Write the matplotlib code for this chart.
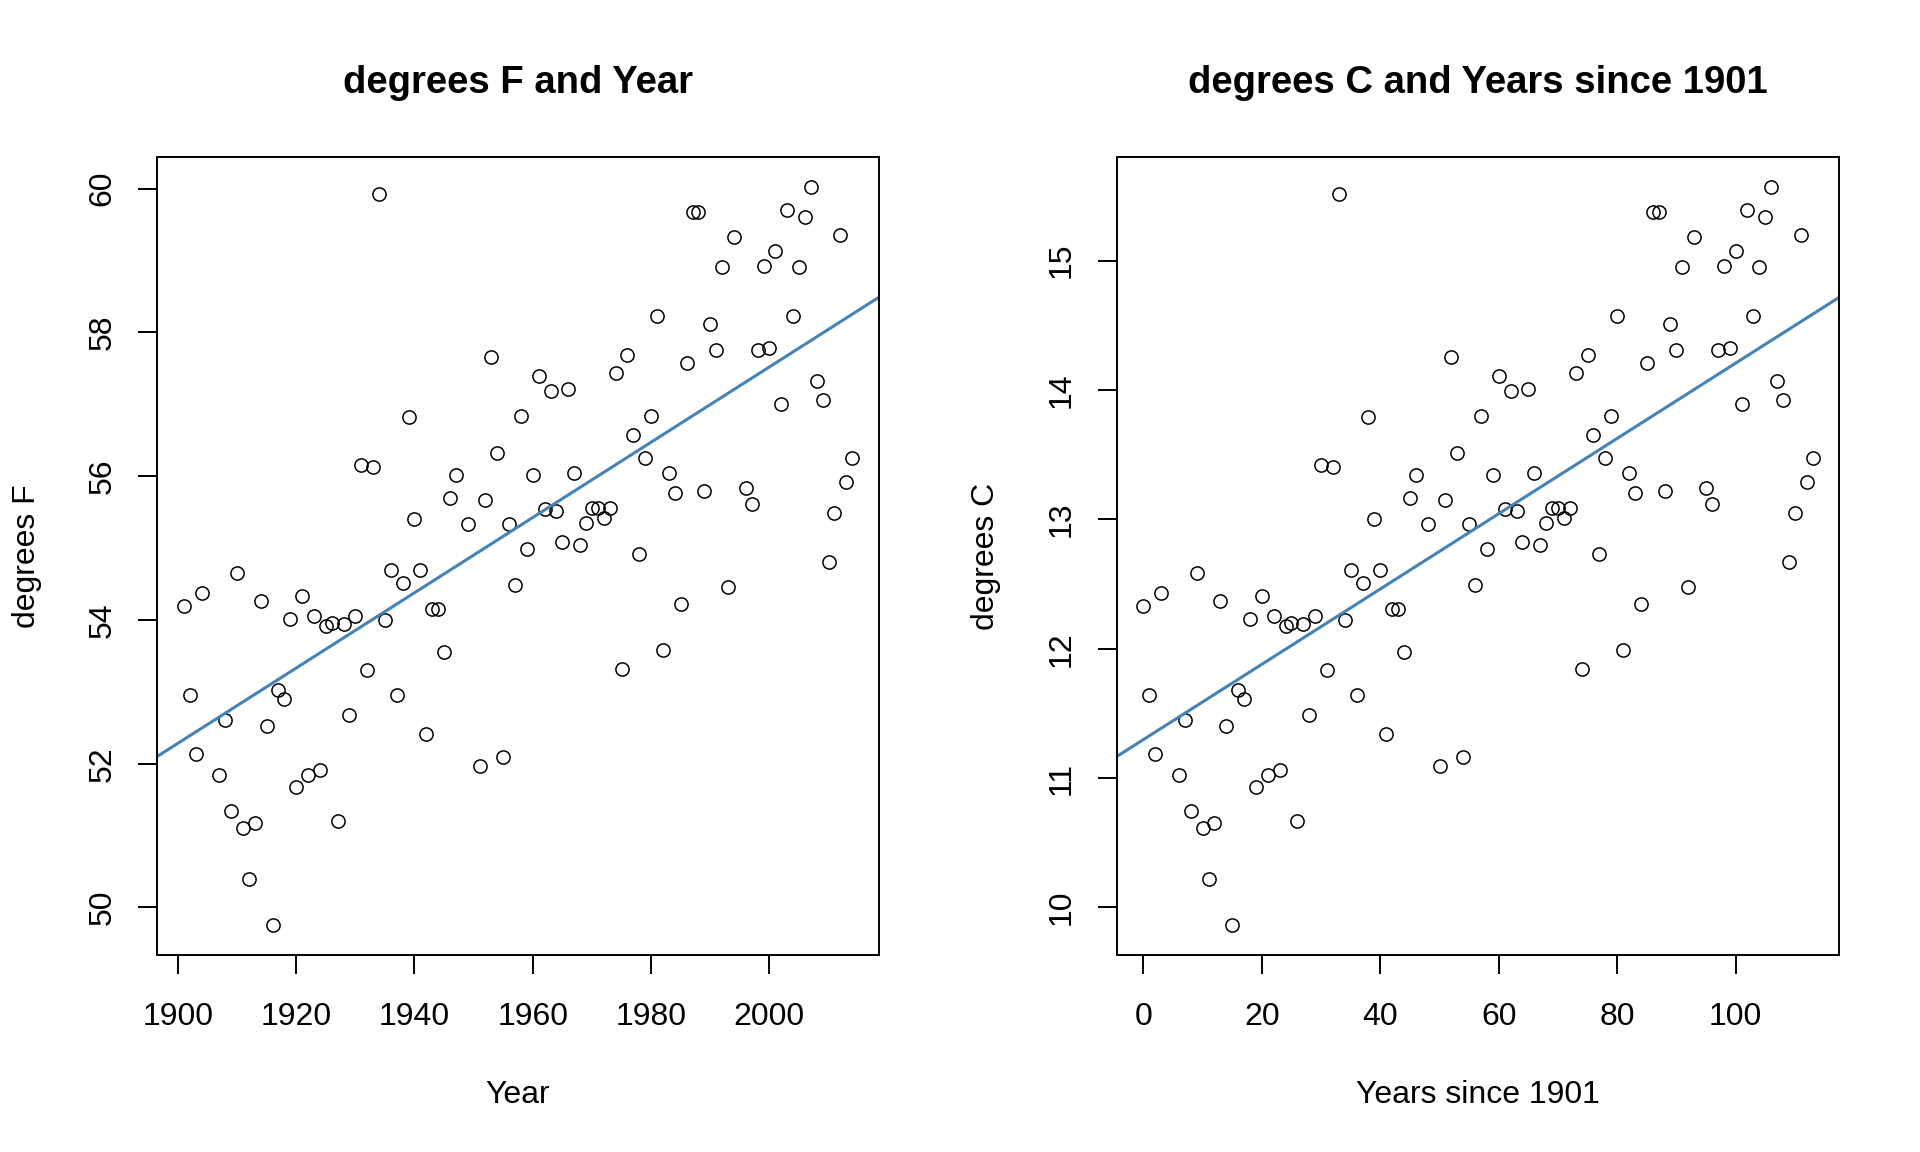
import numpy as np
import matplotlib
matplotlib.use('Agg')
import matplotlib.pyplot as plt

plt.rcParams['font.family'] = ['Liberation Sans', 'DejaVu Sans']

# yearly average temperature, degrees F
years = [1901, 1902, 1903, 1904, 1907, 1908, 1909, 1910, 1911, 1912,
         1913, 1914, 1915, 1916, 1917, 1918, 1919, 1920, 1921, 1922,
         1923, 1924, 1925, 1926, 1927, 1928, 1929, 1930, 1931, 1932,
         1933, 1934, 1935, 1936, 1937, 1938, 1939, 1940, 1941, 1942,
         1943, 1944, 1945, 1946, 1947, 1949, 1951, 1952, 1953, 1954,
         1955, 1956, 1957, 1958, 1959, 1960, 1961, 1962, 1963, 1964,
         1965, 1966, 1967, 1968, 1969, 1970, 1971, 1972, 1973, 1974,
         1975, 1976, 1977, 1978, 1979, 1980, 1981, 1982, 1983, 1984,
         1985, 1986, 1987, 1988, 1989, 1990, 1991, 1992, 1993, 1994,
         1996, 1997, 1998, 1999, 2000, 2001, 2002, 2003, 2004, 2005,
         2006, 2007, 2008, 2009, 2010, 2011, 2012, 2013, 2014]

temp_f = [54.19, 52.95, 52.14, 54.38, 51.84, 52.61, 51.34, 54.66, 51.10, 50.40,
          51.17, 54.26, 52.53, 49.75, 53.02, 52.90, 54.02, 51.67, 54.34, 51.85,
          54.06, 51.91, 53.92, 53.96, 51.20, 53.95, 52.68, 54.05, 56.16, 53.30,
          56.13, 59.93, 54.00, 54.69, 52.95, 54.51, 56.82, 55.41, 54.69, 52.41,
          54.15, 54.15, 53.55, 55.70, 56.02, 55.33, 51.97, 55.67, 57.66, 56.33,
          52.10, 55.33, 54.48, 56.84, 54.99, 56.02, 57.40, 55.55, 57.18, 55.52,
          55.08, 57.22, 56.05, 55.05, 55.35, 55.56, 55.56, 55.42, 55.56, 57.44,
          53.32, 57.69, 56.58, 54.92, 56.26, 56.84, 58.23, 53.58, 56.04, 55.76,
          54.22, 57.57, 59.67, 59.67, 55.79, 58.12, 57.76, 58.91, 54.46, 59.33,
          55.84, 55.62, 57.76, 58.93, 57.78, 59.14, 57.00, 59.70, 58.23, 58.91,
          59.60, 60.03, 57.32, 57.06, 54.81, 55.49, 59.35, 55.92, 56.26]

years = np.array(years)
temp_f = np.array(temp_f)
years_since = years - 1901
temp_c = (temp_f - 32) * 5 / 9

f_ticks_x = [1900, 1920, 1940, 1960, 1980, 2000]
f_ticks_y = [50, 52, 54, 56, 58, 60]
c_ticks_x = [0, 20, 40, 60, 80, 100]
c_ticks_y = [10, 11, 12, 13, 14, 15]


def r_lim(v):
    lo, hi = v.min(), v.max()
    pad = 0.04 * (hi - lo)
    return lo - pad, hi + pad


def panel(ax, x, y, title, xlabel, ylabel, xt, yt):
    ax.plot(x, y, 'o', mfc='none', mec='black', ms=9.5, mew=1.1)
    xl, yl = r_lim(x), r_lim(y)
    ax.set_xlim(xl)
    ax.set_ylim(yl)
    slope, icpt = np.polyfit(x, y, 1)
    xx = np.array(xl)
    ax.plot(xx, icpt + slope * xx, color='steelblue', lw=2.2)
    ax.set_xticks(xt)
    ax.set_yticks(yt)
    ax.tick_params(direction='out', length=13.5, width=1.4, labelsize=23, pad=20)
    ax.tick_params(axis='y', labelrotation=90, pad=15)
    for lab in ax.get_yticklabels():
        lab.set_va('center')
    for s in ax.spines.values():
        s.set_linewidth(1.4)
    ax.set_title(title, fontsize=27.5, fontweight='bold', pad=46)
    ax.set_xlabel(xlabel, fontsize=23, labelpad=35)
    ax.set_ylabel(ylabel, fontsize=23, labelpad=33)


fig = plt.figure(figsize=(19.2, 11.52), dpi=100)
ax1 = fig.add_axes([0.0818, 0.171, 0.376, 0.6927])
ax2 = fig.add_axes([0.5816, 0.171, 0.3764, 0.6927])

panel(ax1, years, temp_f, 'degrees F and Year', 'Year', 'degrees F', f_ticks_x, f_ticks_y)
panel(ax2, years_since, temp_c, 'degrees C and Years since 1901', 'Years since 1901', 'degrees C',
      c_ticks_x, c_ticks_y)

fig.savefig('out.png', dpi=100)
